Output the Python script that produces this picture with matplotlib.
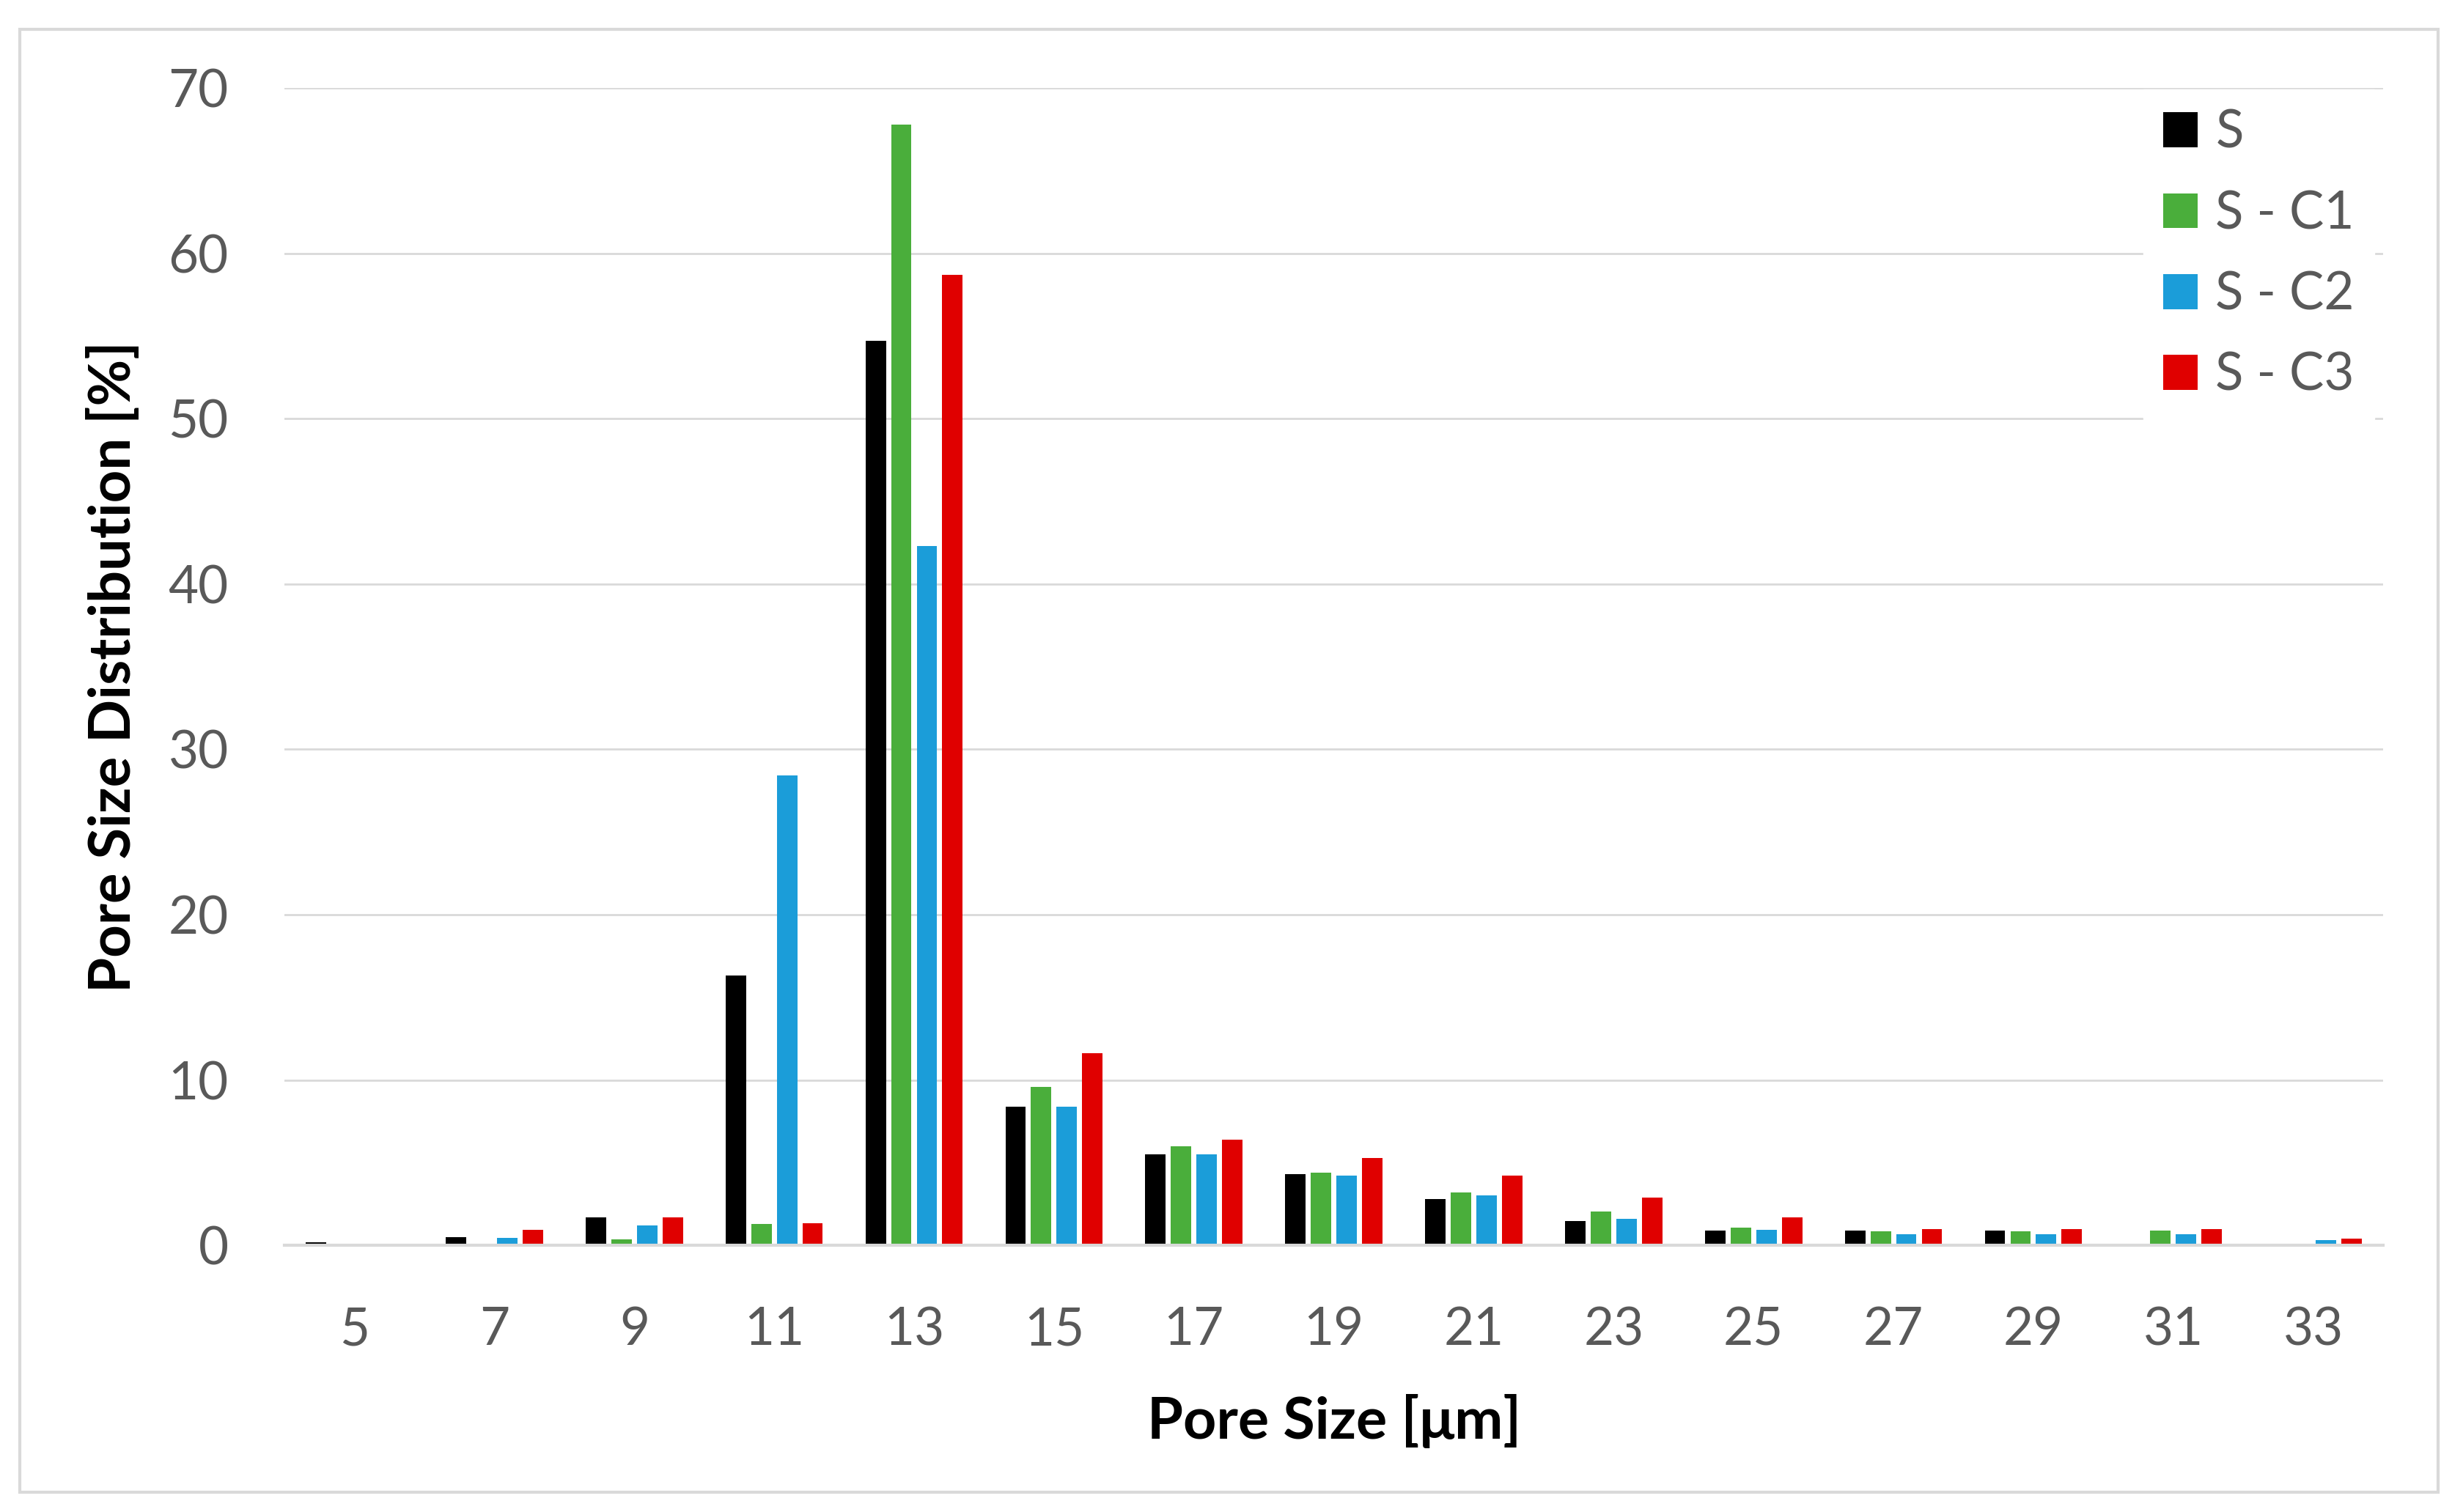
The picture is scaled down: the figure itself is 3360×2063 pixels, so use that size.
import numpy as np
import matplotlib.pyplot as plt
from matplotlib.patches import Rectangle

# pore size classes [um]
sizes = [5, 7, 9, 11, 13, 15, 17, 19, 21, 23, 25, 27, 29, 31, 33]

# pore size distribution [%]
s_vals = [0.2, 0.5, 1.7, 16.3, 54.7, 8.4, 5.5, 4.3, 2.8, 1.45, 0.9, 0.9, 0.9, 0.1, 0.0]
c1_vals = [0.0, 0.0, 0.35, 1.3, 67.8, 9.6, 6.0, 4.4, 3.2, 2.05, 1.05, 0.85, 0.85, 0.9, 0.05]
c2_vals = [0.1, 0.45, 1.2, 28.4, 42.3, 8.4, 5.5, 4.2, 3.0, 1.6, 0.95, 0.65, 0.65, 0.65, 0.3]
c3_vals = [0.0, 0.95, 1.7, 1.35, 58.7, 11.6, 6.4, 5.3, 4.2, 2.9, 1.7, 1.0, 1.0, 1.0, 0.4]

labels = ['S', 'S - C1', 'S - C2', 'S - C3']
colors = ['#000000', '#4AAE3B', '#1B9DD9', '#E00000']
series = [s_vals, c1_vals, c2_vals, c3_vals]

plt.rcParams['font.family'] = ['Lato', 'DejaVu Sans']

fig = plt.figure(figsize=(33.6, 20.63), dpi=100)
ax = fig.add_axes([0.1155, 0.1764, 0.8521, 0.7654])

# light grey frame round the whole chart
fig.patches.append(Rectangle((27 / 3360, 1 - 2036 / 2063), (3326 - 27) / 3360, (2036 - 40) / 2063,
                             transform=fig.transFigure, fill=False, edgecolor='#D9D9D9', linewidth=3))

x = np.arange(len(sizes))
pitch = 0.183
width = 0.146
for i, (vals, lab, col) in enumerate(zip(series, labels, colors)):
    ax.bar(x + (i - 1.5) * pitch, vals, width=width, color=col, label=lab, zorder=3)

ax.set_xlim(-0.5, len(sizes) - 0.5)
ax.set_ylim(0, 70)
ax.set_yticks(range(0, 71, 10))
ax.set_xticks(x)
ax.set_xticklabels([str(s) for s in sizes])

ax.grid(axis='y', color='#D9D9D9', linewidth=2)
ax.set_axisbelow(True)
for side in ['top', 'right', 'left']:
    ax.spines[side].set_visible(False)
ax.spines['bottom'].set_color('#D9D9D9')
ax.spines['bottom'].set_linewidth(3)
ax.spines['bottom'].set_zorder(4)

ax.tick_params(axis='both', length=0, labelsize=51, labelcolor='#595959')
ax.tick_params(axis='y', pad=55)
ax.tick_params(axis='x', pad=60)

ax.set_xlabel('Pore Size [μm]', fontsize=57, fontweight='bold', labelpad=40)
ax.set_ylabel('Pore Size Distribution [%]', fontsize=56, fontweight='bold', labelpad=27)

leg = ax.legend(loc='upper left', bbox_to_anchor=(2924 / 3360, 1 - 122 / 2063),
                bbox_transform=fig.transFigure, fontsize=51, frameon=True, fancybox=False,
                handlelength=0.66, handleheight=0.66, handletextpad=0.35,
                labelspacing=0.64, borderpad=0.38, borderaxespad=0)
leg.get_frame().set_facecolor('white')
leg.get_frame().set_edgecolor('white')
leg.get_frame().set_alpha(1)
for t in leg.get_texts():
    t.set_color('#595959')

fig.savefig('out.png', dpi=100, facecolor='white')
